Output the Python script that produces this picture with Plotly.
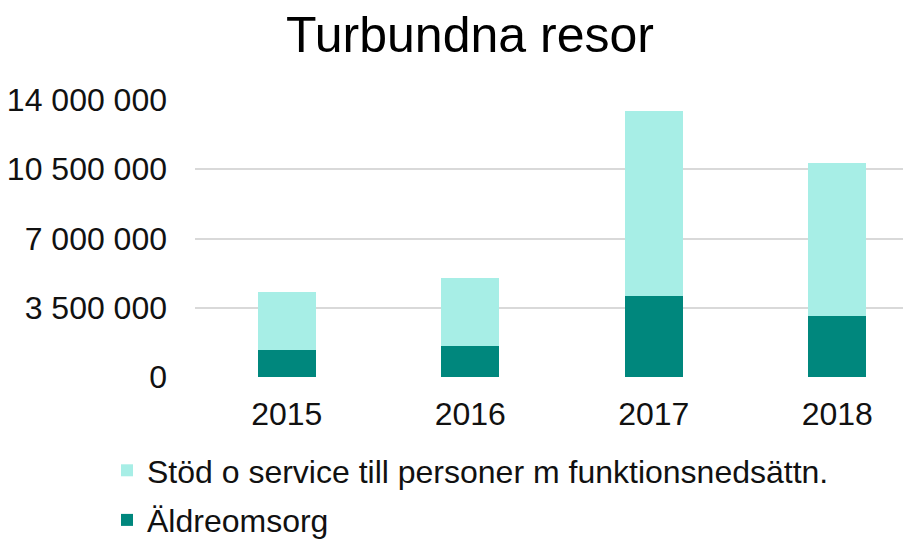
import plotly.graph_objects as go

years = ["2015", "2016", "2017", "2018"]
aldreomsorg = [1350000, 1560000, 4100000, 3090000]
stod = [2960000, 3460000, 9360000, 7720000]
tick_vals = [0, 3500000, 7000000, 10500000, 14000000]
tick_text = ["0", "3 500 000", "7 000 000", "10 500 000", "14 000 000"]

FONT = "Liberation Sans, Arial, sans-serif"
W, H = 903, 532  # page body has an 8px margin

fig = go.Figure()
fig.add_trace(go.Bar(
    x=years, y=aldreomsorg, name="Äldreomsorg",
    marker=dict(color="#00877D", line=dict(width=0)),
    width=0.316, legendgroup="a", legendrank=2,
))
fig.add_trace(go.Bar(
    x=years, y=stod, name="Stöd o service till personer m funktionsnedsättn.",
    marker=dict(color="#A7EEE6", line=dict(width=0)),
    width=0.316, legendgroup="b", legendrank=1,
))

fig.update_layout(
    width=W, height=H,
    barmode="stack",
    paper_bgcolor="white", plot_bgcolor="white",
    margin=dict(l=187, r=0, t=91, b=162, autoexpand=False),
    font=dict(family=FONT, size=32, color="#111111"),
    title=dict(text="Turbundna resor", x=462/W, xanchor="center",
               xref="container", yref="container", y=1-26/H, yanchor="middle",
               font=dict(size=50, color="#000000", family=FONT)),
    showlegend=True,
    legend=dict(orientation="v", traceorder="grouped",
                xref="container", yref="container",
                x=99/W, xanchor="left", y=1-435/H, yanchor="top",
                font=dict(size=32, color="#111111"),
                tracegroupgap=5, bgcolor="rgba(0,0,0,0)"),
    bargap=0.684,
)
fig.update_xaxes(type="category", range=[-0.5, 3.402], showgrid=False,
                 showline=False, ticks="", ticklabelstandoff=14, automargin=False,
                 tickangle=0,
                 tickfont=dict(size=32, color="#111111"))
fig.update_yaxes(range=[-50500, 14050500], tickvals=tick_vals, ticktext=tick_text,
                 showgrid=True, gridcolor="#D9D9D9", gridwidth=1.5,
                 zeroline=False, showline=False, ticks="", automargin=False,
                 ticklabelstandoff=27,
                 tickfont=dict(size=32, color="#111111"))

fig.write_html("out.html")
